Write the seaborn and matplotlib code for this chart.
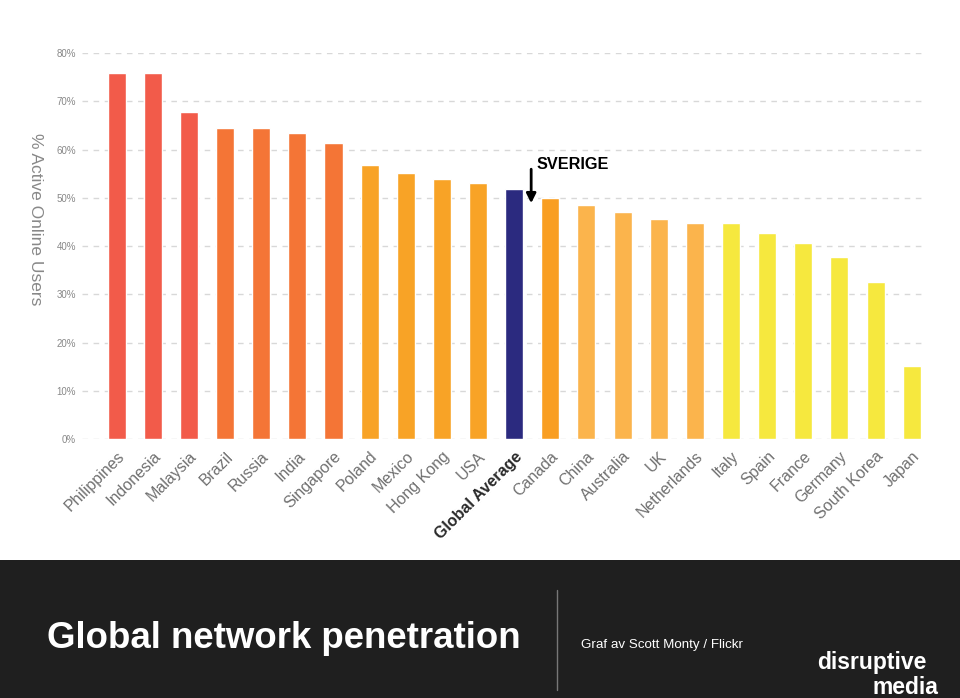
import matplotlib
matplotlib.use("Agg")
import pandas as pd
import matplotlib.pyplot as plt
import seaborn as sns

# Data
countries = ['Philippines', 'Indonesia', 'Malaysia', 'Brazil', 'Russia', 'India',
             'Singapore', 'Poland', 'Mexico', 'Hong Kong', 'USA', 'Global Average',
             'Canada', 'China', 'Australia', 'UK', 'Netherlands', 'Italy', 'Spain',
             'France', 'Germany', 'South Korea', 'Japan']
active_users = [75.9, 75.9, 67.8, 64.5, 64.5, 63.4, 61.3, 56.8, 55.1, 53.9, 53.1, 51.8,
                49.9, 48.5, 47.0, 45.6, 44.8, 44.8, 42.7, 40.6, 37.7, 32.5, 15.1]
bar_colors = ['#F25B4A'] * 3 + ['#F47536'] * 4 + ['#F8A326'] * 4 + ['#2B2A7F'] + \
             ['#F99E22'] + ['#FBB44C'] * 4 + ['#F6E83E'] * 6
y_ticks = [0, 10, 20, 30, 40, 50, 60, 70, 80]

data = pd.DataFrame({'country': countries, 'value': active_users})

sns.set_style("white")
plt.rcParams['font.family'] = ['Liberation Sans', 'DejaVu Sans']
fig = plt.figure(figsize=(9.6, 6.98), dpi=100)
ax = fig.add_axes([0.085, 0.371, 0.879, 0.553])

sns.barplot(data=data, x='country', y='value', hue='country', palette=bar_colors,
            legend=False, width=0.5, saturation=1, ax=ax)

ax.set_ylim(0, 80)
ax.set_xlim(-0.97, 22.38)
ax.set_yticks(y_ticks)
ax.set_yticklabels([f'{t}%' for t in y_ticks], fontsize=7, color='#888888')
ax.yaxis.grid(True, linestyle=(0, (4, 4)), color='#d8d8d8', linewidth=1)
ax.set_axisbelow(True)
for s in ax.spines.values():
    s.set_visible(False)
ax.tick_params(axis='y', length=0, pad=4)

ax.set_xticks(range(len(countries)))
ax.set_xticklabels(countries, rotation=45, ha='right', rotation_mode='anchor',
                   fontsize=11.5, color='#707070')
for lab in ax.get_xticklabels():
    if lab.get_text() == 'Global Average':
        lab.set_fontweight('bold')
        lab.set_color('#2a2a2a')
ax.tick_params(axis='x', length=0, pad=7)
ax.set_xlabel('')
ax.set_ylabel('% Active Online Users', rotation=-90, fontsize=12.5, color='#888888')
ax.yaxis.set_label_coords(-0.064, 0.57)

# Sverige marker
ax.annotate('', xy=(11.47, 48.3), xytext=(11.47, 56.5),
            arrowprops=dict(arrowstyle='-|>', color='black', lw=2, mutation_scale=14))
ax.text(11.63, 57.0, 'SVERIGE', fontsize=11.7, fontweight='bold', va='center',
        color='black')

# Dark footer band
band = fig.add_axes([0, 0, 1, 138 / 698])
band.set_facecolor('#1f1f1f')
band.set_xlim(0, 960)
band.set_ylim(138, 0)
band.set_xticks([])
band.set_yticks([])
for s in band.spines.values():
    s.set_visible(False)
band.plot([557, 557], [30, 130], color='#777777', lw=1)
band.text(47, 79, 'Global network penetration', color='white', fontsize=26.4,
          fontweight='bold', va='center', ha='left')
band.text(581, 85, 'Graf av Scott Monty / Flickr', color='white', fontsize=9.6,
          va='center', ha='left')
band.text(817, 103, 'disruptive', color='white', fontsize=16.5, fontweight='bold',
          va='center', ha='left')
band.text(938, 127, 'media', color='white', fontsize=16.5, fontweight='bold',
          va='center', ha='right')

fig.savefig('out.png', dpi=100)
